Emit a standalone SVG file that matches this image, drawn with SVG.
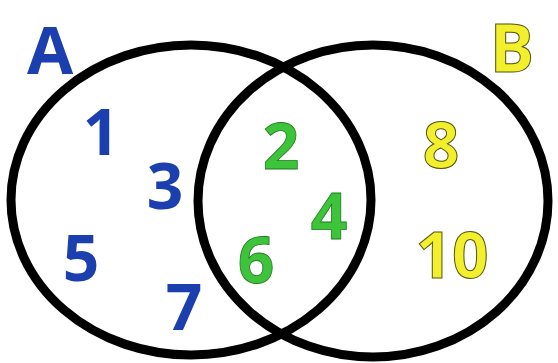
<svg xmlns="http://www.w3.org/2000/svg" width="558" height="363" viewBox="0 0 558 363">
<style>
.c{fill:none;stroke:#000;stroke-width:9}
.t{font-family:"Open Sans","Noto Sans",sans-serif;font-weight:bold;text-anchor:middle;font-size:64px}
.a{fill:#1b3fae}
.g{fill:#3dc43a;stroke:#1f7a1f;stroke-width:0.8}
.y{fill:#f2ef2c;stroke:#555511;stroke-width:1}
</style>
<rect width="558" height="363" fill="#fff"/>
<g id="setA"><ellipse class="c" cx="191" cy="200" rx="180" ry="155"/></g>
<g id="setB"><ellipse class="c" cx="373" cy="201" rx="175" ry="156"/></g>
<g id="labels">
<text class="t a" x="50" y="74" style="font-size:67px">A</text>
<text class="t y" x="512" y="72" style="font-size:66px">B</text>
<text class="t a" x="101" y="155">1</text>
<text class="t a" x="165" y="209">3</text>
<text class="t a" x="81" y="281">5</text>
<text class="t a" x="184" y="330">7</text>
<text class="t g" x="281" y="169">2</text>
<text class="t g" x="329" y="239">4</text>
<text class="t g" x="256" y="283">6</text>
<text class="t y" x="441" y="168">8</text>
<text class="t y" x="452" y="278">10</text>
</g>
</svg>
